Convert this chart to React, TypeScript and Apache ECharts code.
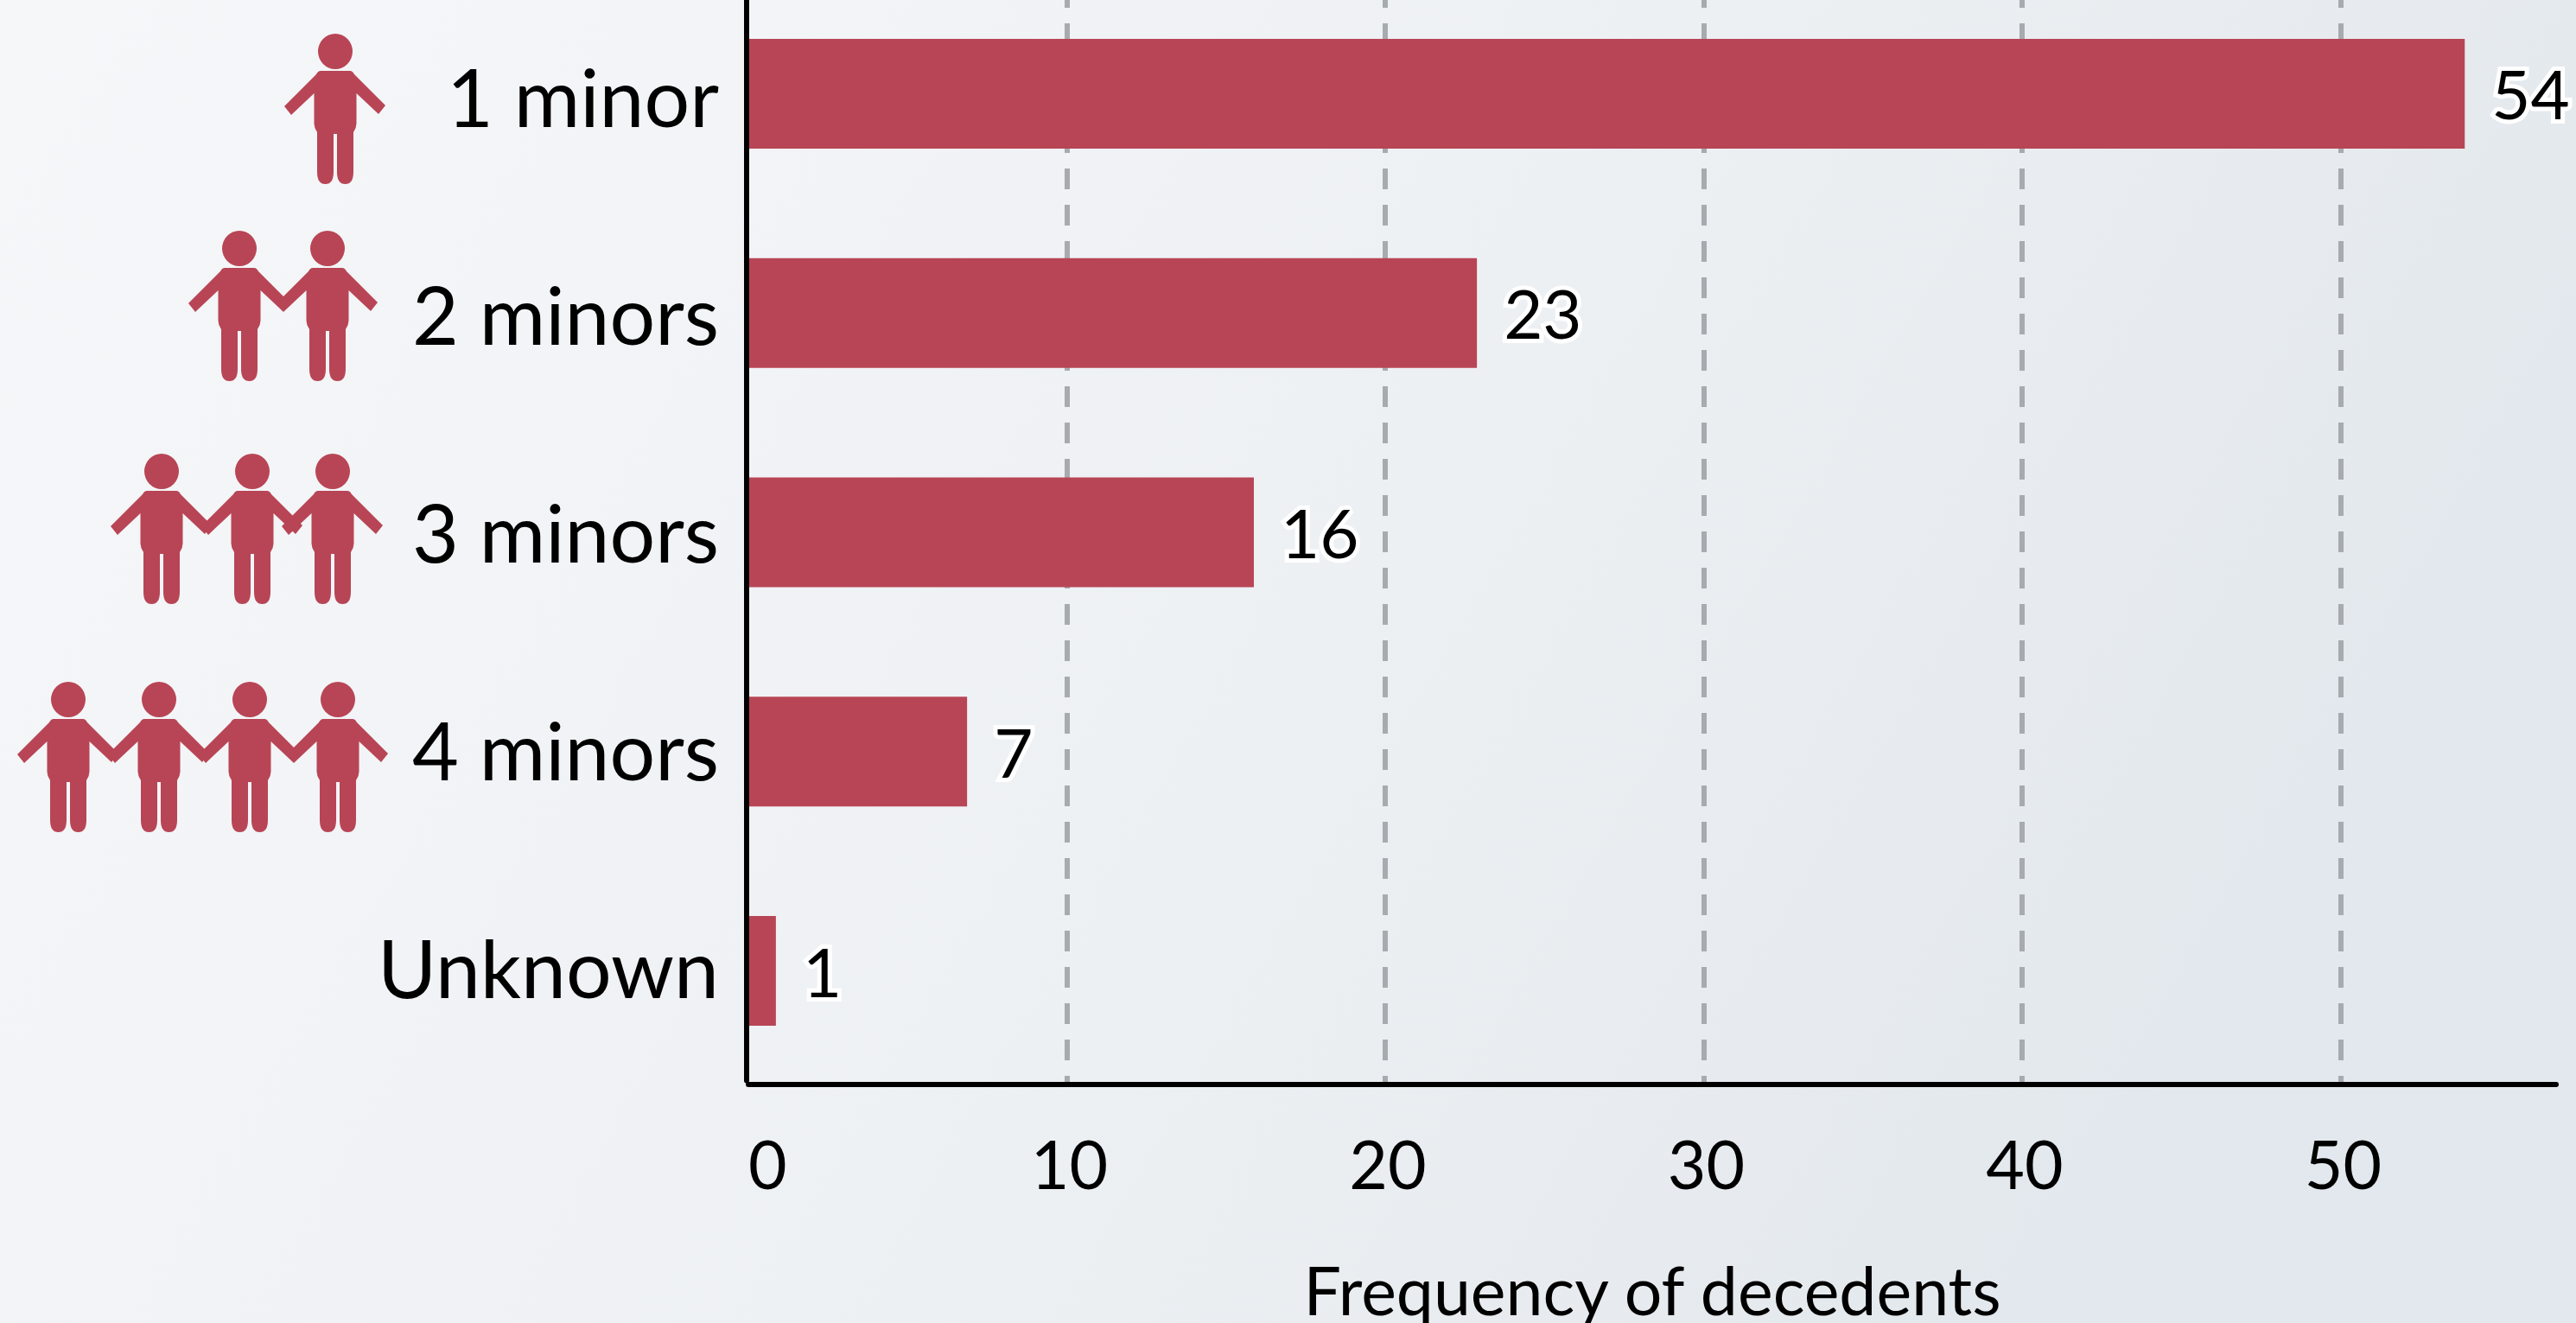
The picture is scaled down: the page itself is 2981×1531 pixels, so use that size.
import React, { useEffect, useRef } from "react";
import * as echarts from "echarts";

const categories = ["1 minor", "2 minors", "3 minors", "4 minors", "Unknown"];
const frequencies = [54, 23, 16, 7, 1];
const axisTitle = "Frequency of decedents";

const FIGURE =
  "M-20 20.5A20 20.5 0 1 1 20 20.5A20 20.5 0 1 1 -20 20.5Z" +
  "M-17 43L17 43Q20 43 22 47L58 83L50 93L24.5 69L24.5 104Q24.5 109 21 114L21 160Q21 174 11.5 174Q2 174 2 160L2 116L-2 116L-2 160Q-2 174 -11.5 174Q-21 174 -21 160L-21 114Q-24.5 109 -24.5 104L-24.5 69L-51 94L-59 84L-22 47Q-20 43 -17 43Z";

echarts.graphic.registerShape("figure", echarts.graphic.extendPath(FIGURE, {}) as any);

const FIGURE_ROWS = [
  { top: 39, xs: [388] },
  { top: 267, xs: [277, 379] },
  { top: 525, xs: [187, 292, 385] },
  { top: 789, xs: [79, 184, 289, 391] },
];

const FONT = "Lato";
const RED = "#b84555";

export default function App() {
  const ref = useRef<HTMLDivElement>(null);
  useEffect(() => {
    document.body.style.margin = "0";
    const chart = echarts.init(ref.current!, undefined, { renderer: "svg" });
    chart.setOption({
      animation: false,
      backgroundColor: new echarts.graphic.LinearGradient(0, 0, 1, 0.3, [
        { offset: 0, color: "#f6f7f9" },
        { offset: 0.55, color: "#eef1f4" },
        { offset: 0.85, color: "#e7ebef" },
        { offset: 1, color: "#e2e8ed" },
      ]),
      grid: [
        { left: 861, top: -18.4, width: 2065, height: 1268.8, outerBoundsMode: "none" },
        { left: 866, top: 0, width: 2092, height: 1255, outerBoundsMode: "none" },
        { left: 864, top: -15, width: 2000, height: 1260, outerBoundsMode: "none" },
      ],
      xAxis: [
        { type: "value", gridIndex: 0, min: 0, max: 56, show: false },
        {
          type: "value",
          gridIndex: 1,
          min: 0,
          max: 56.77,
          interval: 10,
          name: axisTitle,
          nameLocation: "middle",
          nameGap: 198,
          nameTextStyle: { fontFamily: FONT, fontSize: 77, color: "#000" },
          axisLine: { show: true, lineStyle: { color: "#000", width: 6 } },
          axisTick: { show: false },
          axisLabel: {
            margin: 52,
            showMaxLabel: false,
            alignMinLabel: "left",
            fontFamily: FONT,
            fontSize: 77,
            color: "#000",
            formatter: (v: number) => (v === 0 ? `{z|0}` : `{n|${v}}`),
            rich: {
              z: { fontFamily: FONT, fontSize: 77, color: "#000" },
              n: { fontFamily: FONT, fontSize: 77, color: "#000", padding: [0, 0, 0, 6] },
            },
          },
          splitLine: {
            show: true,
            showMinLine: false,
            showMaxLine: false,
            lineStyle: { color: "#a7abaf", width: 6, type: [24, 18], dashOffset: 15 },
          },
        },
        { type: "value", gridIndex: 2, min: 0, max: 1, show: false },
      ],
      yAxis: [
        {
          type: "category",
          gridIndex: 0,
          inverse: true,
          data: categories,
          offset: -3,
          z: 3,
          axisLine: { show: true, lineStyle: { color: "#000", width: 6 } },
          axisTick: { show: false },
          axisLabel: { show: false },
        },
        { type: "value", gridIndex: 1, show: false },
        {
          type: "category",
          gridIndex: 2,
          inverse: true,
          data: categories,
          axisLine: { show: false },
          axisTick: { show: false },
          axisLabel: { margin: 32, fontFamily: FONT, fontSize: 93, color: "#000" },
        },
      ],
      series: [
        {
          type: "bar",
          xAxisIndex: 0,
          yAxisIndex: 0,
          data: frequencies,
          barWidth: 127,
          itemStyle: { color: RED },
          label: {
            show: true,
            position: "right",
            distance: 31,
            fontFamily: FONT,
            fontSize: 78,
            color: "#000",
            textBorderColor: "#fff",
            textBorderWidth: 10,
          },
        },
      ],
      graphic: FIGURE_ROWS.flatMap((row) =>
        row.xs.map((x) => ({
          type: "figure",
          x,
          y: row.top,
          style: { fill: RED },
        }))
      ),
    });
    return () => chart.dispose();
  }, []);
  return <div ref={ref} style={{ width: 2981, height: 1531 }} />;
}
